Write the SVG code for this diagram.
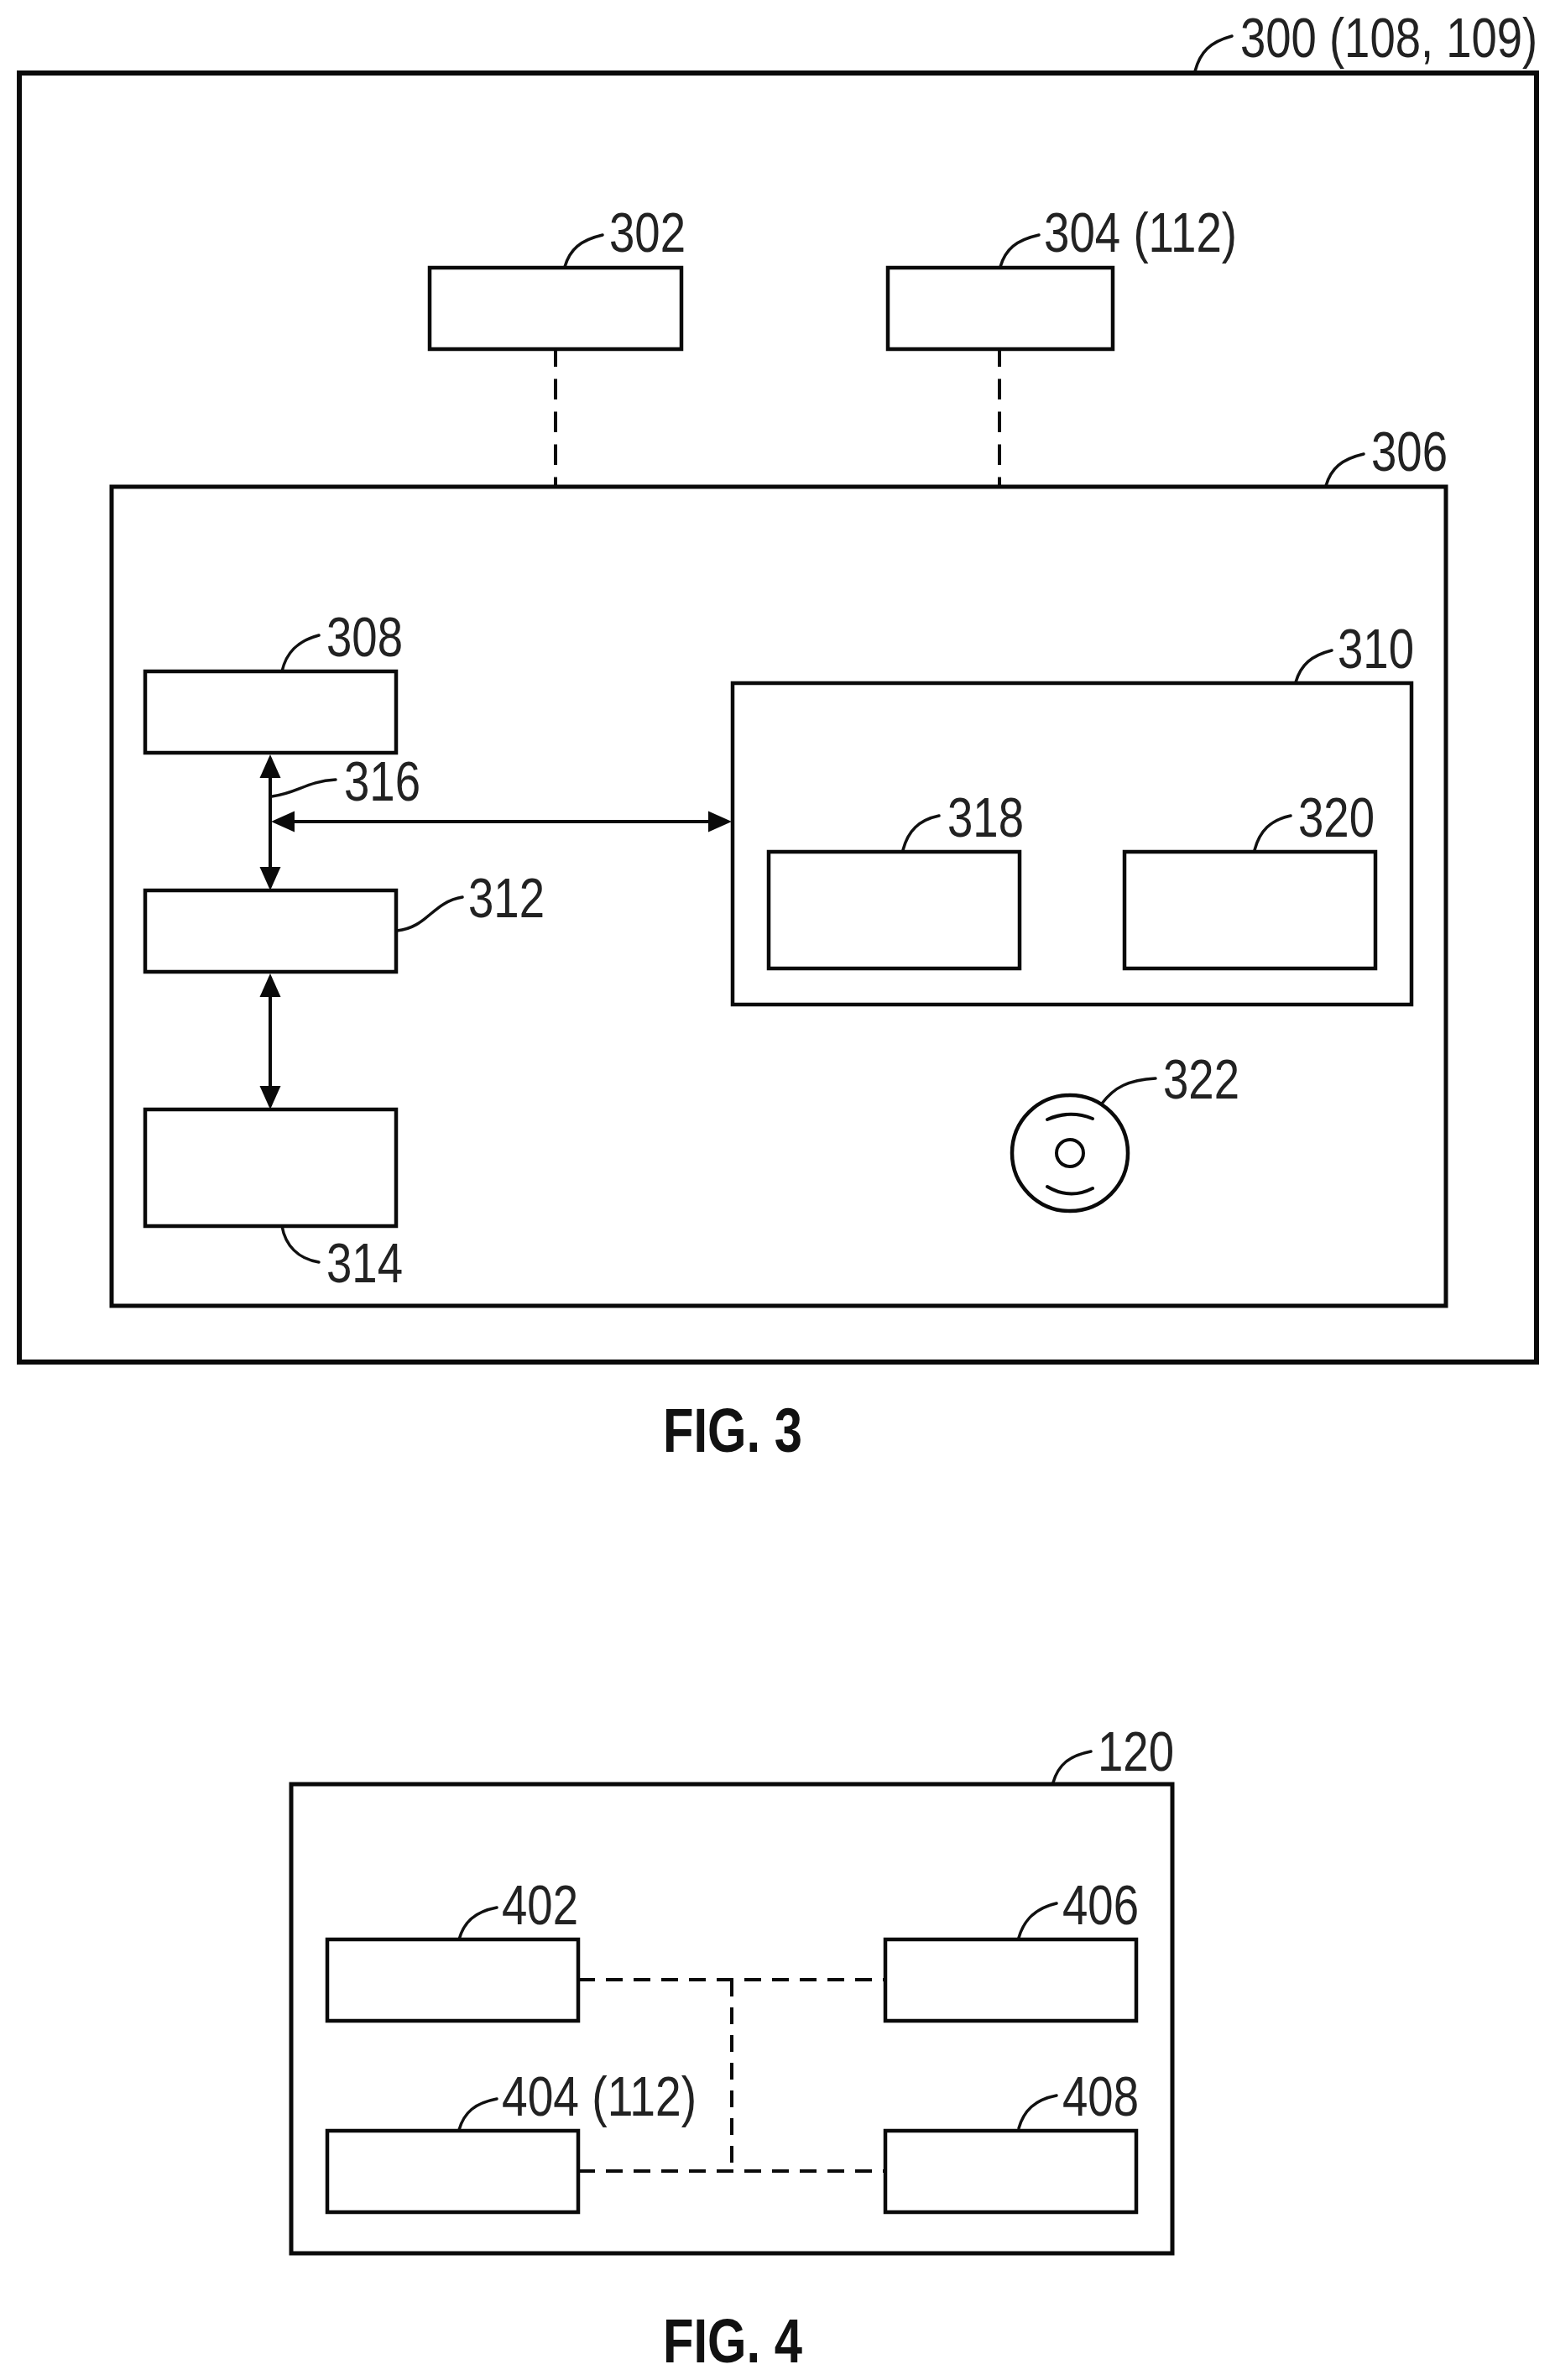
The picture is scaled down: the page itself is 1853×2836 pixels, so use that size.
<svg xmlns="http://www.w3.org/2000/svg" width="1853" height="2836" viewBox="0 0 1853 2836">
<style>
.b{fill:none;stroke:#0a0a0a;stroke-width:4.5}
.o{fill:none;stroke:#0a0a0a;stroke-width:6}
.l{fill:none;stroke:#111;stroke-width:3.5;stroke-linecap:round}
.d{fill:none;stroke:#0a0a0a;stroke-width:4;stroke-dasharray:20 13}
.v{fill:none;stroke:#0a0a0a;stroke-width:4;stroke-dasharray:24.5 14.5;stroke-dashoffset:3.5}
.a{fill:none;stroke:#0a0a0a;stroke-width:4}
.t{font-family:"Liberation Sans",Arial,sans-serif;font-size:66px;fill:#222}
.f{font-family:"Liberation Sans",Arial,sans-serif;font-size:75px;font-weight:bold;fill:#111}
</style>
<defs>
<marker id="ah" markerUnits="userSpaceOnUse" markerWidth="28" markerHeight="26" refX="24" refY="13" orient="auto-start-reverse"><path d="M0 0.5L28 13L0 25.5z" fill="#0a0a0a"/></marker>
</defs>
<rect width="1853" height="2836" fill="#fff"/>
<g id="connectors">
<path class="v" d="M662 416V581"/>
<path class="v" d="M1191 416V581"/>
<path class="a" marker-start="url(#ah)" marker-end="url(#ah)" d="M322 903V1057"/>
<path class="a" marker-start="url(#ah)" marker-end="url(#ah)" d="M322 1164V1318"/>
<path class="a" marker-start="url(#ah)" marker-end="url(#ah)" d="M327 979H868"/>
<path class="d" d="M689 2359H1055"/>
<path class="d" d="M689 2587H1055"/>
<path class="d" d="M872 2359V2587"/>
<path class="l" d="M1424 85C1430 62 1442 50 1468 43"/>
<path class="l" d="M673 318C679 297 692 286 718 280"/>
<path class="l" d="M1192 318C1198 297 1211 286 1238 280"/>
<path class="l" d="M1580 579C1586 558 1599 547 1625 541"/>
<path class="l" d="M336 800C341 778 354 764 380 757"/>
<path class="l" d="M324 949C355 945 365 931 400 929"/>
<path class="l" d="M473 1109C510 1105 515 1075 551 1069"/>
<path class="l" d="M1544 813C1550 792 1563 781 1587 775"/>
<path class="l" d="M1076 1013C1082 990 1095 977 1119 972"/>
<path class="l" d="M1495 1013C1501 990 1514 977 1538 972"/>
<path class="l" d="M1313 1315C1328 1295 1345 1287 1377 1285"/>
<path class="l" d="M336 1461C340 1484 355 1500 380 1504"/>
<path class="l" d="M1255 2124C1261 2103 1274 2092 1300 2087"/>
<path class="l" d="M547 2311C553 2290 566 2278 592 2273"/>
<path class="l" d="M547 2538C553 2517 566 2506 592 2501"/>
<path class="l" d="M1214 2309C1220 2288 1233 2274 1259 2268"/>
<path class="l" d="M1214 2536C1220 2515 1233 2502 1259 2497"/>
</g>
<g id="n300"><rect class="o" x="23" y="87" width="1808" height="1536"/><text class="t" transform="translate(1478 68) scale(.825 1)">300 (108, 109)</text></g>
<g id="n302"><rect class="b" x="512" y="319" width="300" height="97"/><text class="t" x="726" y="300" textLength="91" lengthAdjust="spacingAndGlyphs">302</text></g>
<g id="n304"><rect class="b" x="1058" y="319" width="268" height="97"/><text class="t" x="1244" y="300" textLength="230" lengthAdjust="spacingAndGlyphs">304 (112)</text></g>
<g id="n306"><rect class="o" x="133" y="580" width="1590" height="976" style="stroke-width:5"/><text class="t" x="1634" y="561" textLength="91" lengthAdjust="spacingAndGlyphs">306</text></g>
<g id="n308"><rect class="b" x="173" y="800" width="299" height="97"/><text class="t" x="389" y="782" textLength="91" lengthAdjust="spacingAndGlyphs">308</text></g>
<g id="n310"><rect class="b" x="873" y="814" width="809" height="383"/><text class="t" x="1594" y="796" textLength="91" lengthAdjust="spacingAndGlyphs">310</text></g>
<g id="n312"><rect class="b" x="173" y="1061" width="299" height="97"/><text class="t" x="558" y="1093" textLength="91" lengthAdjust="spacingAndGlyphs">312</text></g>
<g id="n314"><rect class="b" x="173" y="1322" width="299" height="139"/><text class="t" x="389" y="1528" textLength="91" lengthAdjust="spacingAndGlyphs">314</text></g>
<g id="n316"><text class="t" x="410" y="954" textLength="91" lengthAdjust="spacingAndGlyphs">316</text></g>
<g id="n318"><rect class="b" x="916" y="1015" width="299" height="139"/><text class="t" x="1129" y="997" textLength="91" lengthAdjust="spacingAndGlyphs">318</text></g>
<g id="n320"><rect class="b" x="1340" y="1015" width="299" height="139"/><text class="t" x="1547" y="997" textLength="91" lengthAdjust="spacingAndGlyphs">320</text></g>
<g id="n322"><circle class="a" cx="1275" cy="1374" r="69" style="stroke-width:4.5"/><circle class="a" cx="1275" cy="1374" r="16"/><path class="a" stroke-linecap="round" d="M1248 1334Q1275 1322 1302 1333"/><path class="a" stroke-linecap="round" d="M1248 1414Q1275 1430 1302 1416"/><text class="t" x="1386" y="1309" textLength="91" lengthAdjust="spacingAndGlyphs">322</text></g>
<g id="fig3"><text class="f" x="790" y="1730" textLength="166" lengthAdjust="spacingAndGlyphs">FIG. 3</text></g>
<g id="n120"><rect class="b" x="347" y="2126" width="1050" height="559" style="stroke-width:5"/><text class="t" x="1308" y="2110" textLength="91" lengthAdjust="spacingAndGlyphs">120</text></g>
<g id="n402"><rect class="b" x="390" y="2311" width="299" height="97"/><text class="t" x="598" y="2293" textLength="91" lengthAdjust="spacingAndGlyphs">402</text></g>
<g id="n404"><rect class="b" x="390" y="2539" width="299" height="97"/><text class="t" x="598" y="2521" textLength="232" lengthAdjust="spacingAndGlyphs">404 (112)</text></g>
<g id="n406"><rect class="b" x="1055" y="2311" width="299" height="97"/><text class="t" x="1266" y="2293" textLength="91" lengthAdjust="spacingAndGlyphs">406</text></g>
<g id="n408"><rect class="b" x="1055" y="2539" width="299" height="97"/><text class="t" x="1266" y="2521" textLength="91" lengthAdjust="spacingAndGlyphs">408</text></g>
<g id="fig4"><text class="f" x="790" y="2815" textLength="166" lengthAdjust="spacingAndGlyphs">FIG. 4</text></g>
</svg>
